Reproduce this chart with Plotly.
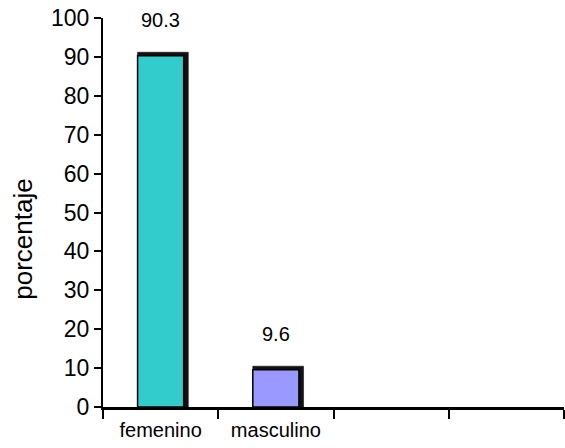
import plotly.graph_objects as go

# Distribution by sex (percentages)
categories = ["femenino", "masculino", " ", "  "]
labels = ["femenino", "masculino"]
values = [90.3, 9.6]
colors = ["#33CCCC", "#9999FF"]
y_title = "porcentaje"

bar_w = 0.40
depth_x = 0.04    # depth of the 3-D side face, in category units
depth_y = 0.9     # depth of the 3-D top face, in percent units

fig = go.Figure()

# dark back face giving the bars a shallow 3-D look
fig.add_trace(go.Bar(
    x=labels,
    y=[v + depth_y for v in values],
    width=bar_w + depth_x,
    offset=-bar_w / 2,
    marker=dict(color="#111111", line=dict(color="#000000", width=0.5)),
    hoverinfo="skip",
    showlegend=False,
))

# front faces
fig.add_trace(go.Bar(
    x=labels,
    y=values,
    width=bar_w,
    offset=-bar_w / 2,
    marker=dict(color=colors, line=dict(color="#000000", width=1.5)),
    showlegend=False,
))

for lab, v in zip(labels, values):
    fig.add_annotation(
        x=lab, y=v, text=f"{v}", showarrow=False,
        yanchor="middle", yshift=36,
        font=dict(family="Arial, Liberation Sans, sans-serif", size=20, color="#000000"),
    )

# y-axis title, set a little below the middle of the axis
fig.add_annotation(
    xref="paper", yref="paper", x=-0.174, y=0.432,
    text=y_title, textangle=-90, showarrow=False,
    xanchor="center", yanchor="middle",
    font=dict(family="Arial, Liberation Sans, sans-serif", size=26, color="#000000"),
)

font = dict(family="Arial, Liberation Sans, sans-serif", color="#000000")

fig.update_layout(
    width=565, height=448,
    margin=dict(l=103, r=1, t=18, b=41),
    paper_bgcolor="white", plot_bgcolor="white",
    barmode="overlay",
    font=font,
    xaxis=dict(
        type="category",
        categoryorder="array", categoryarray=categories,
        range=[-0.5, 3.5],
        tickson="boundaries",
        ticks="outside", ticklen=9, tickwidth=2, tickcolor="#000000",
        ticklabelstandoff=3,
        showline=True, linecolor="#000000", linewidth=3,
        showgrid=False, zeroline=False,
        tickfont=dict(size=20),
    ),
    yaxis=dict(
        range=[0, 100],
        tickmode="linear", tick0=0, dtick=10,
        ticks="outside", ticklen=7, tickwidth=2, tickcolor="#000000",
        showline=True, linecolor="#000000", linewidth=2,
        showgrid=False, zeroline=False,
        tickfont=dict(size=23),
    ),
)

fig.write_html("out.html")
